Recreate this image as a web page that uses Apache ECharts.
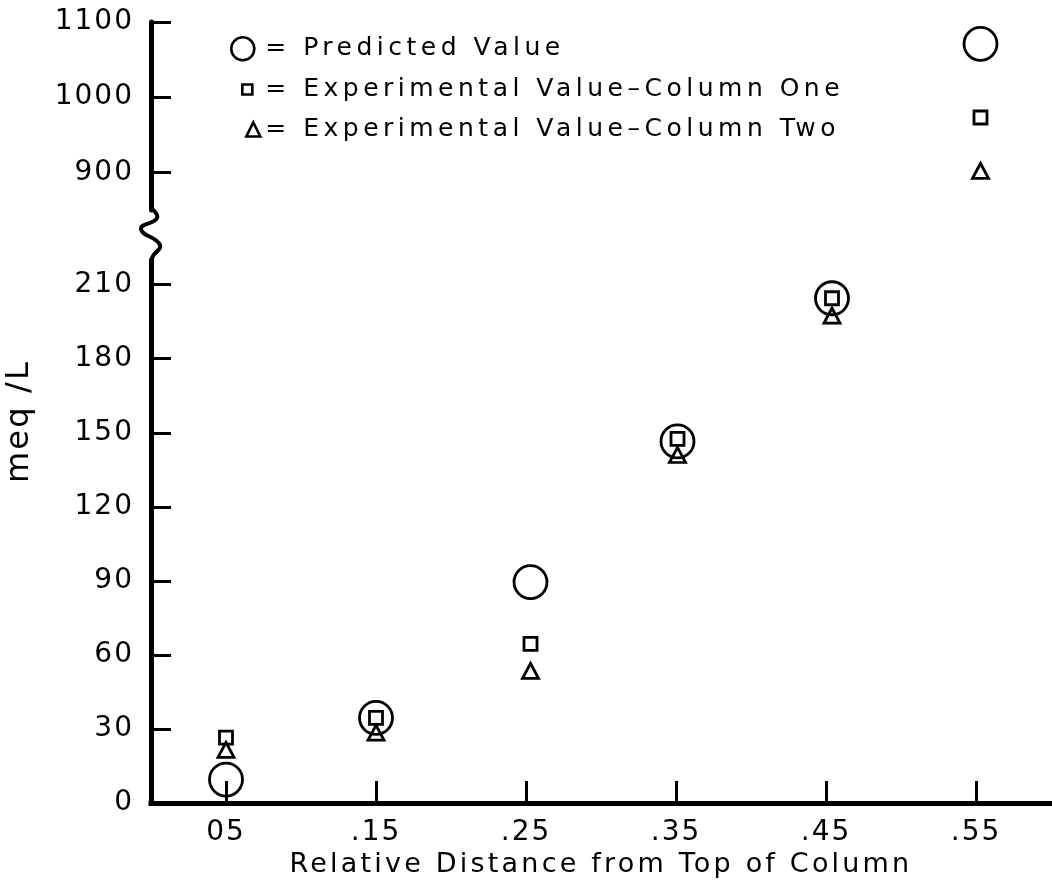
<!DOCTYPE html>
<html>
<head>
<meta charset="utf-8">
<script src="https://cdn.jsdelivr.net/npm/echarts@6/dist/echarts.min.js"></script>
<style>
  html, body { margin: 0; padding: 0; background: #ffffff; }
  #chart { width: 1052px; height: 886px; }
</style>
</head>
<body>
<div id="chart"></div>
<script>
// ---------------- data ----------------
const xTicks = [0.05, 0.15, 0.25, 0.35, 0.45, 0.55];
const xTickLabels = ['05', '.15', '.25', '.35', '.45', '.55'];
const yLowerTicks = [0, 30, 60, 90, 120, 150, 180, 210];
const yUpperTicks = [900, 1000, 1100];
const xPositions = [0.05, 0.15, 0.253, 0.351, 0.454, 0.553];
const predicted = [9.5, 34.5, 89.5, 146.5, 204.5, 1071];
const columnOne = [26.5, 34.5, 64.5, 147.5, 204.5, 973];
const columnTwo = [21.5, 28.5, 53.5, 141, 197.5, 902];
const seriesNames = ['Predicted Value', 'Experimental Value–Column One', 'Experimental Value–Column Two'];
const xAxisName = 'Relative Distance from Top of Column';
const yAxisName = 'meq /L';

// axis break: lower panel 0..220, upper panel 850..1100
const lowerMin = 0, lowerMax = 220, upperMin = 850, upperMax = 1100;

// layout
const gridLeft = 151, gridWidth = 900;
const upperTop = 22, upperHeight = 188;
const lowerTop = 260, lowerHeight = 543;

const FONT = "'DejaVu Sans', sans-serif";
const BLACK = '#000000';

// wide letter spacing of the original typesetting, keyed by font size (px)
const letterSpacingBySize = { 28: 2, 25: 4.5, 27: 3.2, 32: 2.2 };
(function () {
  const proto = CanvasRenderingContext2D.prototype;
  if (!('letterSpacing' in proto)) return;
  const origFill = proto.fillText;
  proto.fillText = function (text, x, y, maxWidth) {
    const m = /(\d+(?:\.\d+)?)px/.exec(this.font || '');
    const sp = m ? letterSpacingBySize[Math.round(parseFloat(m[1]))] : 0;
    const prev = this.letterSpacing;
    this.letterSpacing = (sp || 0) + 'px';
    const r = maxWidth === undefined ? origFill.call(this, text, x, y) : origFill.call(this, text, x, y, maxWidth);
    this.letterSpacing = prev;
    return r;
  };
})();

function split(values) {
  const lo = [], hi = [];
  values.forEach((v, i) => { (v <= lowerMax ? lo : hi).push([xPositions[i], v]); });
  return { lo, hi };
}

const markerDefs = [
  { name: seriesNames[0], values: predicted, symbol: 'circle', size: 33 },
  { name: seriesNames[1], values: columnOne, symbol: 'rect', size: 13 },
  { name: seriesNames[2], values: columnTwo, symbol: 'triangle', size: [16, 15] }
];

const series = [];
markerDefs.forEach(d => {
  const parts = split(d.values);
  const common = {
    type: 'scatter', name: d.name, symbol: d.symbol, symbolSize: d.size,
    itemStyle: { color: 'rgba(0,0,0,0)', borderColor: BLACK, borderWidth: 2.8, opacity: 1 },
    emphasis: { disabled: true }, silent: true
  };
  series.push(Object.assign({}, common, { xAxisIndex: 0, yAxisIndex: 0, data: parts.lo }));
  series.push(Object.assign({}, common, { xAxisIndex: 1, yAxisIndex: 1, data: parts.hi }));
});

function nearestLabel(v) {
  let best = 0;
  xTicks.forEach((t, i) => { if (Math.abs(t - v) < Math.abs(xTicks[best] - v)) best = i; });
  return xTickLabels[best];
}

// axis-break squiggle between the two panels
const breakTop = upperTop + upperHeight, breakBot = lowerTop, bh = breakBot - breakTop;
const squiggle = [
  [gridLeft, breakTop - 2], [gridLeft + 6, breakTop + 0.16 * bh], [gridLeft - 10, breakTop + 0.38 * bh],
  [gridLeft + 9, breakTop + 0.7 * bh], [gridLeft + 2, breakTop + 0.92 * bh], [gridLeft, breakBot + 2]
];

const labelStyle = { color: BLACK, fontSize: 28, fontFamily: FONT };
const legendCommon = {
  orient: 'vertical', padding: 0, selectedMode: false, formatter: '= {name}',
  itemStyle: { color: 'rgba(0,0,0,0)', borderColor: BLACK, borderWidth: 2.6, opacity: 1 }
};

const chart = echarts.init(document.getElementById('chart'));
chart.setOption({
  animation: false,
  backgroundColor: '#ffffff',
  grid: [
    { left: gridLeft, top: lowerTop, width: gridWidth, height: lowerHeight, outerBoundsMode: 'none' },
    { left: gridLeft, top: upperTop, width: gridWidth, height: upperHeight, outerBoundsMode: 'none' }
  ],
  legend: [
    Object.assign({}, legendCommon, {
      data: [seriesNames[0]], icon: 'circle', left: 230, top: 36, itemWidth: 23, itemHeight: 23,
      textStyle: { color: BLACK, fontSize: 25, fontFamily: FONT, padding: [0, 0, 0, 6] }
    }),
    Object.assign({}, legendCommon, {
      data: [seriesNames[1]], icon: 'rect', left: 241, top: 77, itemWidth: 10, itemHeight: 10,
      textStyle: { color: BLACK, fontSize: 25, fontFamily: FONT, padding: [0, 0, 0, 8] }
    }),
    Object.assign({}, legendCommon, {
      data: [seriesNames[2]], icon: 'triangle', left: 245, top: 117, itemWidth: 14, itemHeight: 14,
      textStyle: { color: BLACK, fontSize: 25, fontFamily: FONT, padding: [0, 0, 0, 0] }
    })
  ],
  xAxis: [
    {
      gridIndex: 0, type: 'value', min: 0, max: 0.6,
      axisLine: { show: true, onZero: false, lineStyle: { color: BLACK, width: 5, cap: 'square' } },
      axisTick: { show: true, inside: true, length: 22, lineStyle: { color: BLACK, width: 3 }, customValues: xTicks.slice() },
      axisLabel: Object.assign({ customValues: xTicks.slice(), margin: 16, formatter: v => nearestLabel(v) }, labelStyle),
      splitLine: { show: false },
      name: xAxisName, nameLocation: 'middle', nameGap: 46,
      nameTextStyle: { color: BLACK, fontSize: 27, fontFamily: FONT }
    },
    { gridIndex: 1, type: 'value', min: 0, max: 0.6, show: false, splitLine: { show: false } }
  ],
  yAxis: [
    {
      gridIndex: 0, type: 'value', min: lowerMin, max: lowerMax,
      axisLine: { show: true, onZero: false, lineStyle: { color: BLACK, width: 5 } },
      axisTick: { show: true, inside: true, length: 20, lineStyle: { color: BLACK, width: 3 }, customValues: yLowerTicks.slice() },
      axisLabel: Object.assign({ customValues: yLowerTicks.slice(), margin: 17, formatter: v => String(v) }, labelStyle),
      splitLine: { show: false },
      name: yAxisName, nameLocation: 'middle', nameGap: 115,
      nameTextStyle: { color: BLACK, fontSize: 32, fontFamily: FONT, padding: [0, 0, 0, 220] }
    },
    {
      gridIndex: 1, type: 'value', min: upperMin, max: upperMax,
      axisLine: { show: true, onZero: false, lineStyle: { color: BLACK, width: 5 } },
      axisTick: { show: true, inside: true, length: 20, lineStyle: { color: BLACK, width: 3 }, customValues: yUpperTicks.slice() },
      axisLabel: Object.assign({ customValues: yUpperTicks.slice(), margin: 17, formatter: v => String(v) }, labelStyle),
      splitLine: { show: false }
    }
  ],
  graphic: [
    {
      type: 'polyline', silent: true,
      shape: { points: squiggle, smooth: 0.5 },
      style: { stroke: BLACK, lineWidth: 4, fill: null }
    }
  ],
  series: series
});
</script>
</body>
</html>
